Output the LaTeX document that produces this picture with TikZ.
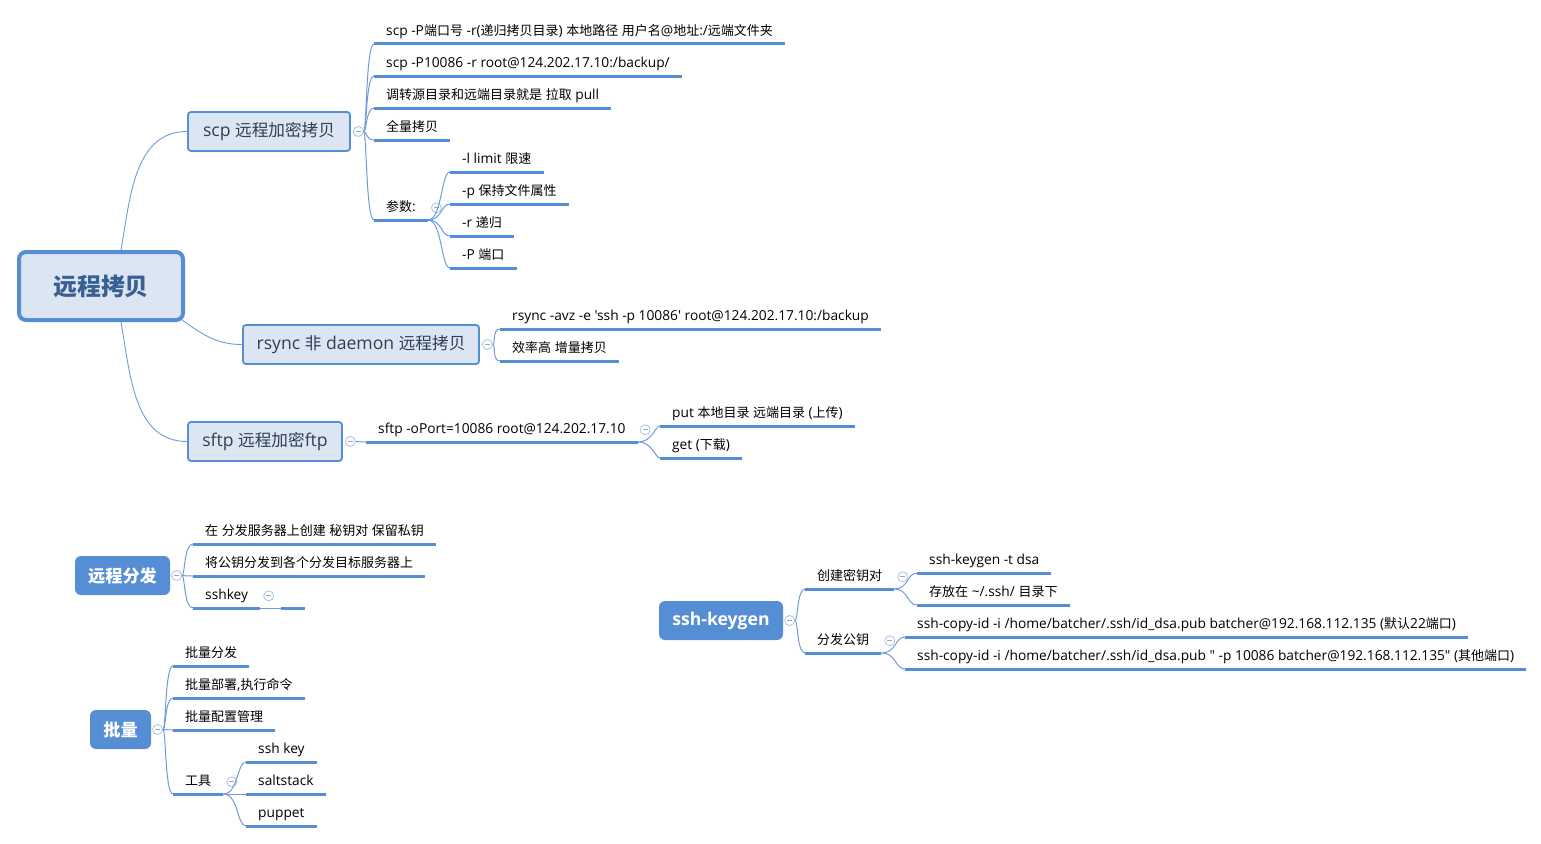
\documentclass[tikz,border=0pt]{standalone}
\usepackage{fontspec}
\setmainfont{Open Sans}[Ligatures=TeXOff, Scale=1.1]
\newfontfamily\cjkfont{Noto Sans CJK SC}[Ligatures=TeXOff, Scale=1.04]
\usetikzlibrary{positioning}

% CJK characters switch to the CJK font
\XeTeXinterchartokenstate=1
\newXeTeXintercharclass\cjkclass
\newcount\cjkcode
\cjkcode="3000
\loop \XeTeXcharclass\cjkcode=\cjkclass \advance\cjkcode by 1 \ifnum\cjkcode<"A000 \repeat
\cjkcode="FF00
\loop \XeTeXcharclass\cjkcode=\cjkclass \advance\cjkcode by 1 \ifnum\cjkcode<"FFF0 \repeat
\XeTeXinterchartoks 0 \cjkclass = {\cjkfont}
\XeTeXinterchartoks 4095 \cjkclass = {\cjkfont}
\XeTeXinterchartoks \cjkclass 0 = {\rmfamily}
\XeTeXinterchartoks \cjkclass 4095 = {\rmfamily}

\definecolor{mmblue}{HTML}{558ED5}
\definecolor{mmline}{HTML}{6F9BD8}
\definecolor{mmfill}{HTML}{DCE6F2}
\definecolor{mmtext}{HTML}{2F3F58}
\definecolor{mmroot}{HTML}{3A5F94}
\definecolor{mmfold}{HTML}{A8C2E8}

\tikzset{
  rootbox/.style={draw=mmblue, line width=4pt, fill=mmfill, rounded corners=7pt, minimum width=164pt, minimum height=68pt, text=mmroot, font=\fontsize{23}{28}\selectfont\bfseries},
  topicbox/.style={draw=mmblue, line width=1.8pt, fill=mmfill, rounded corners=3pt, minimum height=39pt, text=mmtext, font=\fontsize{16}{19}\selectfont},
  floatbox/.style={fill=mmblue, rounded corners=6pt, minimum height=39pt, text=white, font=\fontsize{16.5}{20}\selectfont\bfseries},
  leaf/.style={anchor=south west, inner xsep=12pt, inner ysep=5pt, text height=11pt, text depth=3pt, font=\fontsize{12.5}{15}\selectfont},
  uline/.style={draw=mmblue, line width=3pt},
  link/.style={draw=mmline, line width=1pt, out=0, in=180, out distance=3pt, in distance=8pt},
  rootlink/.style={draw=mmline, line width=0.9pt},
  fold/.style={circle, draw=mmfold, fill=white, line width=0.8pt, minimum size=10pt, inner sep=0pt,
    path picture={\draw[gray!70, line width=0.8pt] ([xshift=2.5pt]path picture bounding box.west) -- ([xshift=-2.5pt]path picture bounding box.east);}}
}

\begin{document}
\begin{tikzpicture}[x=1pt, y=-1pt, node distance=2pt]
\useasboundingbox (0,0) rectangle (1541,843);

  % Main topics
  \node[rootbox] (root) at (101,286) {远程拷贝};
  \node[topicbox, minimum width=162pt] (scp) at (269,131.5) {scp 远程加密拷贝};
  \node[topicbox, minimum width=236pt] (rsync) at (361,344.5) {rsync 非 daemon 远程拷贝};
  \node[topicbox, minimum width=154pt] (sftp) at (265,441.5) {sftp 远程加密ftp};

  % Floating topics
  \node[floatbox, minimum width=95pt] (dist) at (122.5,575.5) {远程分发};
  \node[floatbox, minimum width=61pt] (batch) at (120.5,729.5) {批量};
  \node[floatbox, minimum width=124pt, font=\fontsize{16}{19}\selectfont\bfseries] (keygen) at (721,620.5) {ssh-keygen};

  % scp
  \node[leaf] (s1) at (374,44) {scp -P端口号 -r(递归拷贝目录) 本地路径 用户名@地址:/远端文件夹};
  \node[leaf] (s2) at (374,76) {scp -P10086 -r root@124.202.17.10:/backup/};
  \node[leaf] (s3) at (374,108) {调转源目录和远端目录就是 拉取 pull};
  \node[leaf] (s4) at (374,140) {全量拷贝};
  \node[leaf] (s5) at (374,220) {参数:};
  \node[leaf] (p1) at (450,172) {-l limit 限速};
  \node[leaf] (p2) at (450,204) {-p 保持文件属性};
  \node[leaf] (p3) at (450,236) {-r 递归};
  \node[leaf] (p4) at (450,268) {-P 端口};

  % rsync
  \node[leaf] (r1) at (500,329) {rsync -avz -e 'ssh -p 10086' root@124.202.17.10:/backup};
  \node[leaf] (r2) at (500,361) {效率高 增量拷贝};

  % sftp
  \node[leaf] (f1) at (366,442) {sftp -oPort=10086 root@124.202.17.10};
  \node[leaf] (f2) at (660,426) {put 本地目录 远端目录 (上传)};
  \node[leaf] (f3) at (660,458) {get (下载)};

  % 远程分发
  \node[leaf] (d1) at (193,544) {在 分发服务器上创建 秘钥对 保留私钥};
  \node[leaf] (d2) at (193,576) {将公钥分发到各个分发目标服务器上};
  \node[leaf] (d3) at (193,608) {sshkey};
  \node[leaf] (d4) at (281,608) {};

  % 批量
  \node[leaf] (b1) at (173,666) {批量分发};
  \node[leaf] (b2) at (173,698) {批量部署,执行命令};
  \node[leaf] (b3) at (173,730) {批量配置管理};
  \node[leaf] (b4) at (173,794) {工具};
  \node[leaf] (t1) at (246,762) {ssh key};
  \node[leaf] (t2) at (246,794) {saltstack};
  \node[leaf] (t3) at (246,826) {puppet};

  % ssh-keygen
  \node[leaf] (k1) at (805,589) {创建密钥对};
  \node[leaf] (k2) at (805,653) {分发公钥};
  \node[leaf] (k3) at (917,573) {ssh-keygen -t dsa};
  \node[leaf] (k4) at (917,605) {存放在 \textasciitilde/.ssh/ 目录下};
  \node[leaf] (k5) at (905,637) {ssh-copy-id -i /home/batcher/.ssh/id\_dsa.pub batcher@192.168.112.135 (默认22端口)};
  \node[leaf] (k6) at (905,669) {ssh-copy-id -i /home/batcher/.ssh/id\_dsa.pub " -p 10086 batcher@192.168.112.135" (其他端口)};

  % Fold marks
  \node[fold, right=2pt of scp] (scpfold) {};
  \node[fold, right=2pt of rsync] (rsyncfold) {};
  \node[fold, right=2pt of sftp] (sftpfold) {};
  \node[fold, right=1pt of dist] (distfold) {};
  \node[fold, right=1pt of batch] (batchfold) {};
  \node[fold, right=1pt of keygen] (keygenfold) {};
  \node[fold, right=3pt of s5] (s5fold) {};
  \node[fold, right=2pt of f1] (f1fold) {};
  \node[fold, right=3pt of d3] (d3fold) {};
  \node[fold, right=3pt of b4] (b4fold) {};
  \node[fold, right=3pt of k1] (k1fold) {};
  \node[fold, right=3pt of k2] (k2fold) {};

  % Links
  \draw[rootlink] ([xshift=20pt]root.north) to[out=80, in=180] (scp.west);
  \draw[rootlink] ([shift={(-3pt,2pt)}]root.south east) to[out=-35, in=180] (rsync.west);
  \draw[rootlink] ([xshift=20pt]root.south) to[out=-80, in=180] (sftp.west);

  \foreach \c in {s1,s2,s3,s4,s5}
    \draw[link] (scpfold.east) to (\c.south west);
  \foreach \c in {p1,p2,p3,p4}
    \draw[link, out distance=14pt, in distance=9pt] (s5.south east) to (\c.south west);
  \foreach \c in {r1,r2}
    \draw[link] (rsyncfold.east) to (\c.south west);
  \draw[link] (sftpfold.east) to (f1.south west);
  \foreach \c in {f2,f3}
    \draw[link, out distance=15pt, in distance=5pt] (f1.south east) to (\c.south west);
  \foreach \c in {d1,d2,d3}
    \draw[link, in distance=9pt] (distfold.east) to (\c.south west);
  \draw[link] (d3.south east) -- (d4.south west);
  \foreach \c in {b1,b2,b3,b4}
    \draw[link] (batchfold.east) to (\c.south west);
  \foreach \c in {t1,t2,t3}
    \draw[link, out distance=15pt, in distance=9pt] (b4.south east) to (\c.south west);
  \foreach \c in {k1,k2}
    \draw[link] (keygenfold.east) to (\c.south west);
  \foreach \c in {k3,k4}
    \draw[link, out distance=14pt, in distance=10pt] (k1.south east) to (\c.south west);
  \foreach \c in {k5,k6}
    \draw[link, out distance=15pt, in distance=10pt] (k2.south east) to (\c.south west);

  % Underlines
  \foreach \c in {s1,s2,s3,s4,s5,p1,p2,p3,p4,r1,r2,f1,f2,f3,d1,d2,d3,d4,b1,b2,b3,b4,t1,t2,t3,k1,k2,k3,k4,k5,k6}
    \draw[uline] (\c.south west) -- (\c.south east);

\end{tikzpicture}
\end{document}
